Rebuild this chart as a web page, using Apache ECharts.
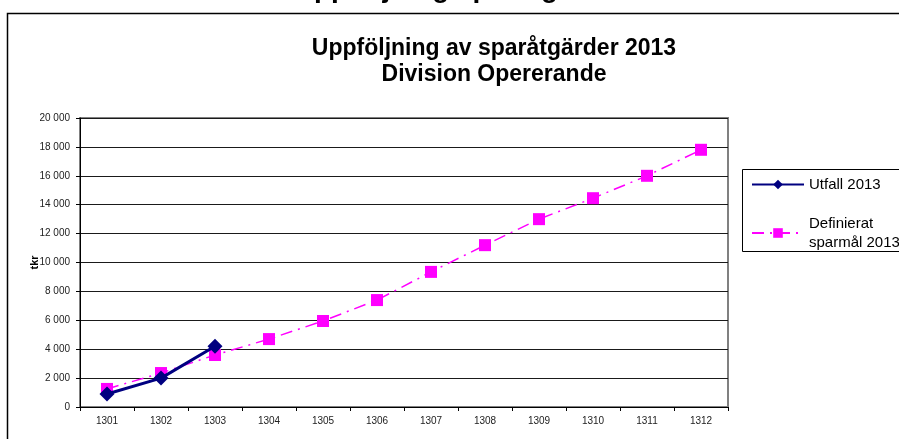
<!DOCTYPE html>
<html>
<head>
<meta charset="utf-8">
<script src="https://cdn.jsdelivr.net/npm/echarts@6/dist/echarts.min.js"></script>
<style>
  html, body { margin: 0; padding: 0; background: #fff; }
  #chart { width: 899px; height: 439px; }
</style>
</head>
<body>
<div id="chart"></div>
<script>
const months = ['1301', '1302', '1303', '1304', '1305', '1306', '1307', '1308', '1309', '1310', '1311', '1312'];
const utfall = [900, 2000, 4200];
const definierat = [1250, 2350, 3600, 4700, 5950, 7400, 9350, 11200, 13000, 14450, 16000, 17800];

const myChart = echarts.init(document.getElementById('chart'));

const fmt = (v) => String(v).replace(/\B(?=(\d{3})+(?!\d))/g, ' ');

myChart.setOption({
  backgroundColor: '#fff',
  animation: false,
  textStyle: {
    fontFamily: 'Liberation Sans, Arial, sans-serif'
  },
  title: {
    text: 'Uppföljning av sparåtgärder 2013\nDivision Opererande',
    left: 489,
    top: 31,
    textAlign: 'center',
    textStyle: {
      fontSize: 23,
      fontWeight: 'bold',
      color: '#000',
      lineHeight: 26
    }
  },
  graphic: [
    {
      // cut off heading above the chart frame
      type: 'text',
      x: 461,
      y: 3,
      style: {
        text: 'Uppföljning sparåtgärder',
        font: 'bold 28px Liberation Sans, Arial, sans-serif',
        fill: '#000',
        align: 'center',
        verticalAlign: 'bottom'
      }
    },
    {
      type: 'rect',
      shape: { x: 7.5, y: 13.5, width: 900, height: 440 },
      style: { fill: 'none', stroke: '#000', lineWidth: 1.5 },
      z: 0
    },
    {
      type: 'rect',
      shape: { x: 742.5, y: 169.5, width: 200, height: 82 },
      style: { fill: 'none', stroke: '#000', lineWidth: 1 },
      z: 1
    }
  ],
  legend: {
    orient: 'vertical',
    left: 746,
    top: 170,
    itemWidth: 52,
    itemHeight: 12,
    itemGap: 20,
    textStyle: {
      fontSize: 15,
      color: '#000',
      lineHeight: 19
    },
    data: ['Utfall 2013', 'Definierat\nsparmål 2013']
  },
  grid: {
    left: 80,
    right: 171,
    top: 118,
    bottom: 32,
    show: true,
    borderColor: '#808080',
    borderWidth: 2
  },
  xAxis: {
    type: 'category',
    boundaryGap: true,
    data: months,
    axisLine: { lineStyle: { color: '#000', width: 1 } },
    axisTick: { show: true, alignWithLabel: false, length: 4, lineStyle: { color: '#000' } },
    axisLabel: { fontSize: 10, color: '#222', margin: 9 }
  },
  yAxis: {
    type: 'value',
    min: 0,
    max: 20000,
    interval: 2000,
    name: 'tkr',
    nameLocation: 'middle',
    nameGap: 40,
    nameMoveOverlap: false,
    nameTextStyle: { fontSize: 11, fontWeight: 'bold', color: '#000' },
    axisLine: { show: true, lineStyle: { color: '#000', width: 1 } },
    axisTick: { show: true, length: 4, lineStyle: { color: '#000' } },
    axisLabel: { fontSize: 10, color: '#222', margin: 10, formatter: fmt },
    splitLine: { lineStyle: { color: '#1a1a1a', width: 1 } }
  },
  series: [
    {
      name: 'Utfall 2013',
      type: 'line',
      data: utfall,
      symbol: 'diamond',
      symbolSize: 15,
      itemStyle: { color: '#000080' },
      lineStyle: { color: '#000080', width: 3 },
      z: 3
    },
    {
      name: 'Definierat\nsparmål 2013',
      type: 'line',
      data: definierat,
      symbol: 'rect',
      symbolSize: 12,
      itemStyle: { color: '#ff00ff' },
      lineStyle: { color: '#ff00ff', width: 1.5, type: [12, 6, 2, 6] },
      z: 2
    }
  ]
});
</script>
</body>
</html>
